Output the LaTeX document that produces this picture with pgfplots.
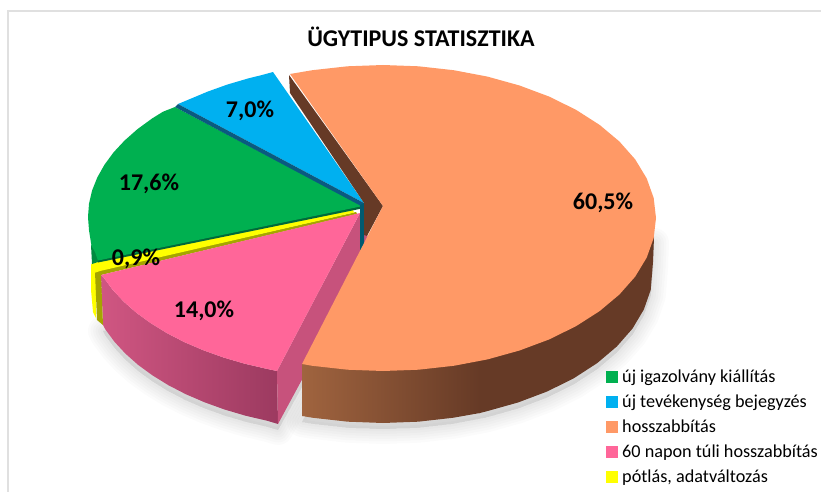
\documentclass[border=0pt]{standalone}
\usepackage{fontspec}
\setmainfont{Carlito}
\usepackage{pgfplots}
\usepackage{pgfplotstable}
\pgfplotsset{compat=1.18}
\definecolor{cGreen}{HTML}{00B050}
\definecolor{cGreenD}{HTML}{00693A}
\definecolor{cGreenW}{HTML}{008A40}
\definecolor{cBlue}{HTML}{00B0F0}
\definecolor{cBlueD}{HTML}{0A5A80}
\definecolor{cTeal}{HTML}{005A70}
\definecolor{cOrange}{HTML}{FF9966}
\definecolor{cOrangeL}{HTML}{A0643F}
\definecolor{cOrangeD}{HTML}{663A26}
\definecolor{cPink}{HTML}{FF6699}
\definecolor{cPinkF}{HTML}{C7527C}
\definecolor{cPinkL}{HTML}{D05682}
\definecolor{cPinkD}{HTML}{9C3A60}
\definecolor{cYellow}{HTML}{FFFF00}
\definecolor{cOlive}{HTML}{A5A500}
\definecolor{cFrame}{HTML}{E0E0E0}

% all surfaces traced in pixel coordinates of the 821x492 picture
\pgfplotstableread{
x y
383 270
302 416
313 417.8
347.8 421.7
383 423
418.2 421.7
452.9 417.8
486.3 411.4
518 402.5
547.4 391.4
573.9 378.2
597.2 363.1
616.8 346.5
632.5 328.6
643.8 309.6
650.7 290
653 262
654 237
}\orangeshadow
\pgfplotstableread{
x y
360 277
278 424
267.3 420.8
245.5 415.7
224.5 409.5
204.6 402.3
185.8 394.2
168.4 385.2
152.4 375.3
138 364.8
125.3 353.5
114.4 341.7
105.3 329.3
103 325
}\pinkshadow

\begin{document}
\begin{tikzpicture}
\begin{axis}[
  width=821pt, height=492pt, scale only axis,
  xmin=0, xmax=821, ymin=0, ymax=492,
  y dir=reverse,
  hide axis,
  clip=true,
]
% keeps the page as large as the whole picture
\addplot[draw=none] coordinates {(0,0)(821,492)};
% frame lines
\addplot[draw=cFrame, line width=2pt] coordinates {(7.5,11)(821,11)};
\addplot[draw=cFrame, line width=2pt] coordinates {(7.5,10)(7.5,492)};

% soft shadow
\pgfplotsinvokeforeach{5,10,15,20,25,30}{
  \addplot[draw=black, fill=black, opacity=0.016, line width=#1pt, line join=round, shift={(0pt,-6pt)}] table {\orangeshadow} -- cycle;
  \addplot[draw=black, fill=black, opacity=0.016, line width=#1pt, line join=round, shift={(0pt,-6pt)}] table {\pinkshadow} -- cycle;
}

% pink wall and face
\addplot[draw=none, left color=cPinkL, right color=cPinkD] coordinates {
  (101,275)(103.5,277.3)(112.6,289.7)(123.6,301.5)(136.4,312.8)(150.9,323.3)(167,333.2)(184.5,342.2)(203.4,350.3)(223.5,357.5)(244.6,363.7)(266.6,368.8)(277,371)
  (278,424)(267.3,420.8)(245.5,415.7)(224.5,409.5)(204.6,402.3)(185.8,394.2)(168.4,385.2)(152.4,375.3)(138,364.8)(125.3,353.5)(114.4,341.7)(105.3,329.3)(103,325)} -- cycle;
\addplot[fill=cPinkF, draw=none] coordinates {(277,371)(360,213)(372,250)(278,424)} -- cycle;

% yellow wall
\addplot[fill=cYellow, draw=none] coordinates {(91,264)(96,272)(96,318)(93,312)(91,290)} -- cycle;
\addplot[fill=cOlive, draw=none] coordinates {(95,272)(101,270)(356,212)(357,214)(101,275)(103,325)(97,320)} -- cycle;
% yellow top
\addplot[fill=cYellow, draw=none] coordinates {(91,264)(98,262)(353,210)(354,212.5)(100,271)(94,273)} -- cycle;

% pink top
\addplot[fill=cPink, draw=none] coordinates {
  (360,213)(101,275)(103.5,277.3)(112.6,289.7)(123.6,301.5)(136.4,312.8)(150.9,323.3)(167,333.2)(184.5,342.2)(203.4,350.3)(223.5,357.5)(244.6,363.7)(266.6,368.8)(277,371)} -- cycle;

% green
\addplot[fill=cGreenW, draw=none] coordinates {(91,245)(92,264)(98,262)(100,250)} -- cycle;
\addplot[fill=cGreenD, draw=none] coordinates {(98,260)(362,205)(362,208.5)(98,262.5)} -- cycle;
\addplot[fill=cGreen, draw=none] coordinates {
  (363,206)(175,107)(163,111.7)(151.9,118.6)(137.4,129.2)(124.6,140.5)(113.6,152.3)(104.5,164.7)(97.3,177.4)(92.1,190.4)(89,203.7)(88,217)(89,230.3)(91.5,246)(95,252)(98,260.5)} -- cycle;

% blue
\addplot[fill=cBlue, draw=none] coordinates {
  (364,203)(273,72)(261.7,75.1)(248.6,78.3)(227.5,84.5)(207.4,91.7)(192.2,98.1)(178,104)} -- cycle;
\addplot[fill=cBlueD, draw=none] coordinates {(178,104)(364,203)(363,207)(175,107)} -- cycle;

% teal inner wall
\addplot[fill=cTeal, draw=none] coordinates {(360,215)(360,205)(364,203)(364,236)(364,250)(360,250)} -- cycle;

% orange inner wall
\addplot[fill=cOrangeD, draw=none] coordinates {(289,75)(383,206)(367,236)(364,235)(364,203)(290,93)} -- cycle;

% orange outer wall
\addplot[draw=none, left color=cOrangeL, right color=cOrangeD] coordinates {
  (302,364)(480,350)(480,413)(452.9,417.8)(418.2,421.7)(383,423)(347.8,421.7)(313,417.8)(302,416)} -- cycle;
\addplot[fill=cOrangeD, draw=none] coordinates {
  (479,350)(650,225)(654,237)(653,262)(650.7,290)(643.8,309.6)(632.5,328.6)(616.8,346.5)(597.2,363.1)(573.9,378.2)(547.4,391.4)(518,402.5)(486.3,411.4)(479,413.2)} -- cycle;

% orange top
\addplot[fill=cOrange, draw=none] coordinates {
  (383,206)(290,74)(312.3,70.2)(347.4,66.3)(383,65)(418.6,66.3)(453.7,70.2)(487.5,76.6)(519.5,85.5)(549.2,96.6)(576,109.8)(599.6,124.9)(619.4,141.5)(635.2,159.4)(646.7,178.4)(653.7,198)(656,218)
  (653.7,238)(646.7,257.6)(635.2,276.6)(619.4,294.5)(599.6,311.1)(576,326.2)(549.2,339.4)(519.5,350.5)(487.5,359.4)(453.7,365.8)(418.6,369.7)(383,371)(347.4,369.7)(312.3,365.8)(302,364)} -- cycle;

% legend swatches
\addplot[only marks, mark=square*, mark size=5.5pt, color=cGreen] coordinates {(611.5,377)};
\addplot[only marks, mark=square*, mark size=5.5pt, color=cBlue] coordinates {(611.5,402)};
\addplot[only marks, mark=square*, mark size=5.5pt, color=cOrange] coordinates {(611.5,427)};
\addplot[only marks, mark=square*, mark size=5.5pt, color=cPink] coordinates {(611.5,452)};
\addplot[only marks, mark=square*, mark size=5.5pt, color=cYellow] coordinates {(611.5,477)};

\node[font=\fontsize{24}{26}\selectfont\bfseries] at (axis cs:421,37) {ÜGYTIPUS STATISZTIKA};

\node[font=\fontsize{24}{26}\selectfont\bfseries] at (axis cs:603,203) {60,5\%};
\node[font=\fontsize{24}{26}\selectfont\bfseries] at (axis cs:250,111) {7,0\%};
\node[font=\fontsize{24}{26}\selectfont\bfseries] at (axis cs:149,184) {17,6\%};
\node[font=\fontsize{24}{26}\selectfont\bfseries] at (axis cs:136,259) {0,9\%};
\node[font=\fontsize{24}{26}\selectfont\bfseries] at (axis cs:204,311) {14,0\%};

\node[anchor=base west, inner sep=0pt, font=\fontsize{18.2}{20}\selectfont] at (axis cs:622,382) {új igazolvány kiállítás};
\node[anchor=base west, inner sep=0pt, font=\fontsize{18.2}{20}\selectfont] at (axis cs:622,407) {új tevékenység bejegyzés};
\node[anchor=base west, inner sep=0pt, font=\fontsize{18.2}{20}\selectfont] at (axis cs:622,432) {hosszabbítás};
\node[anchor=base west, inner sep=0pt, font=\fontsize{18.2}{20}\selectfont] at (axis cs:622,457) {60 napon túli hosszabbítás};
\node[anchor=base west, inner sep=0pt, font=\fontsize{18.2}{20}\selectfont] at (axis cs:622,482) {pótlás, adatváltozás};
\end{axis}
\end{tikzpicture}
\end{document}
